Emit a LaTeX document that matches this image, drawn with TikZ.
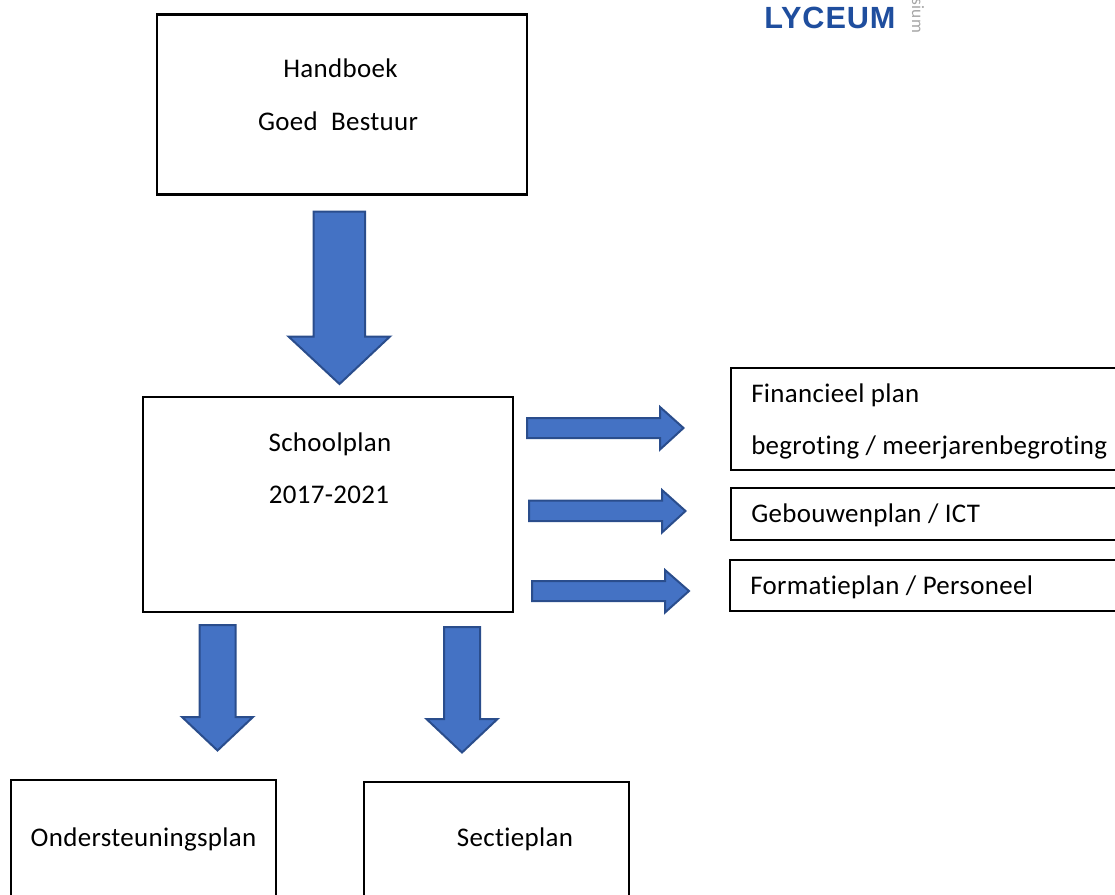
\documentclass[tikz,border=0pt]{standalone}
\usepackage{fontspec}
\setmainfont[Ligatures=NoCommon,LetterSpace=1.2]{Carlito}
\newfontfamily\logofont[LetterSpace=3]{Liberation Sans}
\definecolor{arrfill}{HTML}{4472C4}
\definecolor{arrline}{HTML}{2A4D8C}
\definecolor{logoblue}{HTML}{1F4E9E}
\tikzset{
  px/.style={x=0.75pt,y=-0.75pt},
  plan/.style={draw=black,line width=1.9pt,fill=white},
  arrowshape/.style={draw=arrline,fill=arrfill,line width=1.5pt,line join=miter},
  lbl/.style={font=\fontsize{20.2pt}{24pt}\selectfont,inner sep=0pt,text=black},
}
\begin{document}
\begin{tikzpicture}[px]
\useasboundingbox (0,0) rectangle (1115,894);
\clip (0,0) rectangle (1115,894);
\node[plan,minimum width=277.5pt,minimum height=135pt,inner sep=0pt] (hb) at (342,104.5) {};
\node[plan,minimum width=277.5pt,minimum height=161.5pt,inner sep=0pt] (sp) at (328,504.5) {};
\coordinate (fnw) at (731,368);
\coordinate (gnw) at (731,488);
\coordinate (pnw) at (730,560);
\draw[plan] (1125,368) -- (fnw) -- (731,470) -- (1125,470);
\draw[plan] (1125,488) -- (gnw) -- (731,540) -- (1125,540);
\draw[plan] (1125,560) -- (pnw) -- (730,611) -- (1125,611);
\draw[plan] (11,904) -- (11,780) -- (276,780) -- (276,904);
\draw[plan] (364,904) -- (364,782) -- (629,782) -- (629,904);
% arrows
\draw[arrowshape] (313.5,211.5) -- (365,211.5) -- (365,336.5) -- (390,336.5) -- (339.5,384) -- (288.5,336.5) -- (313.5,336.5) -- cycle;
\draw[arrowshape] (199.5,625) -- (235.5,625) -- (235.5,717) -- (253,717) -- (217.5,750.5) -- (182,717) -- (199.5,717) -- cycle;
\draw[arrowshape] (444,627) -- (480,627) -- (480,719) -- (497.5,719) -- (462,752.5) -- (426.5,719) -- (444,719) -- cycle;
\draw[arrowshape] (527,418) -- (660,418) -- (660,407) -- (683.5,428) -- (660,449.5) -- (660,438) -- (527,438) -- cycle;
\draw[arrowshape] (529,500.5) -- (662,500.5) -- (662,490) -- (685.5,511) -- (662,532.5) -- (662,521) -- (529,521) -- cycle;
\draw[arrowshape] (532,581) -- (665,581) -- (665,570) -- (689,591) -- (665,612.5) -- (665,601) -- (532,601) -- cycle;
% text
\node[lbl] (t1) at (340.5,68) {Handboek};
\node[lbl] (t2) at (338,121) {Goed\kern 10pt Bestuur};
\node[lbl] (t3) at (330,444.5) {Schoolplan};
\node[lbl] (t4) at (329,495) {2017-2021};
\node[lbl,anchor=west] (t5) at (751,395.5) {Financieel plan};
\node[lbl,anchor=west] (t6) at (751,447.5) {begroting / meerjarenbegroting};
\node[lbl,anchor=west] (t7) at (751,515.5) {Gebouwenplan / ICT};
\node[lbl,anchor=west] (t8) at (750,587.5) {Formatieplan / Personeel};
\node[lbl] (t9) at (143.5,839.5) {Ondersteuningsplan};
\node[lbl] (t10) at (515,839.5) {Sectieplan};
\node[anchor=west,inner sep=0pt,text=logoblue,font=\logofont\bfseries\fontsize{23pt}{26pt}\selectfont] (logo) at (764,18) {LYCEUM};
\node[rotate=-90,anchor=center,inner sep=0pt,text=gray!70,font=\fontsize{13pt}{14pt}\selectfont] (sium) at (918,16) {sium};
\end{tikzpicture}
\end{document}
